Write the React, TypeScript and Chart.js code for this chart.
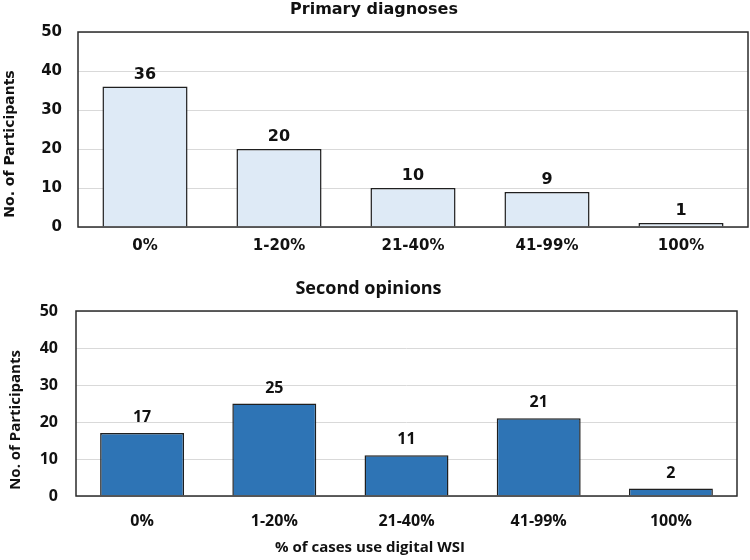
import { useEffect, useRef } from "react";
import { Chart, registerables } from "chart.js";

Chart.register(...registerables);

const categories = ["0%", "1-20%", "21-40%", "41-99%", "100%"];
const primaryValues = [36, 20, 10, 9, 1];
const secondValues = [17, 25, 11, 21, 2];
const yTicks = [0, 10, 20, 30, 40, 50];
const primaryTitle = "Primary diagnoses";
const secondTitle = "Second opinions";
const yAxisTitle = "No. of Participants";
const xAxisTitle = "% of cases use digital WSI";

const TEXT = "#111111";

type TextItem = { text: string; x: number; y: number; rotate?: boolean; font: string };

function makePlugins(labelFont: string, gap: number, texts: TextItem[]) {
  const frame = {
    id: "frame",
    afterDatasetsDraw(chart: any) {
      const { ctx, chartArea: a } = chart;
      ctx.save();
      ctx.strokeStyle = "#2b2b2b";
      ctx.lineWidth = 1.5;
      ctx.strokeRect(a.left, a.top, a.right - a.left, a.bottom - a.top);
      ctx.restore();
    },
  };
  const valueLabels = {
    id: "valueLabels",
    afterDatasetsDraw(chart: any) {
      const { ctx } = chart;
      const meta = chart.getDatasetMeta(0);
      const data = chart.data.datasets[0].data;
      ctx.save();
      ctx.font = labelFont;
      ctx.fillStyle = TEXT;
      ctx.textAlign = "center";
      ctx.textBaseline = "alphabetic";
      meta.data.forEach((el: any, i: number) => {
        ctx.fillText(String(data[i]), el.x, el.y - gap);
      });
      ctx.restore();
    },
  };
  const axisTexts = {
    id: "axisTexts",
    afterDraw(chart: any) {
      const { ctx } = chart;
      texts.forEach((t) => {
        ctx.save();
        ctx.font = t.font;
        ctx.fillStyle = TEXT;
        ctx.textAlign = "center";
        ctx.textBaseline = "middle";
        ctx.translate(t.x, t.y);
        if (t.rotate) ctx.rotate(-Math.PI / 2);
        ctx.fillText(t.text, 0, 0);
        ctx.restore();
      });
    },
  };
  return [frame, valueLabels, axisTexts];
}

function buildConfig(opts: {
  values: number[];
  fill: string;
  family: string;
  title: string;
  titleSize: number;
  titlePad: { top: number; bottom: number };
  tickSize: number;
  xTickPad: number;
  yTickPad: number;
  yWidth: number;
  xHeight: number;
  padRight: number;
  labelFont: string;
  gap: number;
  texts: TextItem[];
}): any {
  const font = { family: opts.family, size: opts.tickSize, weight: "bold" as const };
  return {
    type: "bar",
    data: {
      labels: categories,
      datasets: [
        {
          data: opts.values,
          backgroundColor: opts.fill,
          borderColor: "#1f1f1f",
          borderWidth: 1.5,
          borderSkipped: "start",
          categoryPercentage: 1,
          barPercentage: 0.635,
        },
      ],
    },
    options: {
      animation: false,
      responsive: false,
      maintainAspectRatio: false,
      layout: { padding: { left: 0, right: opts.padRight, top: 0, bottom: 0 } },
      plugins: {
        legend: { display: false },
        tooltip: { enabled: false },
        title: {
          display: true,
          text: opts.title,
          color: TEXT,
          font: { family: opts.family, size: opts.titleSize, weight: "bold" },
          padding: opts.titlePad,
        },
      },
      scales: {
        x: {
          grid: { display: false, drawTicks: false },
          border: { display: false },
          ticks: { font, color: TEXT, padding: opts.xTickPad, maxRotation: 0 },
          afterFit: (s: any) => {
            s.height = opts.xHeight;
          },
        },
        y: {
          min: 0,
          max: 50,
          grid: { color: "#d9d9d9", lineWidth: 1, drawTicks: false },
          border: { display: false },
          ticks: { font, color: TEXT, padding: opts.yTickPad },
          afterBuildTicks: (s: any) => {
            s.ticks = yTicks.map((v) => ({ value: v }));
          },
          afterFit: (s: any) => {
            s.width = opts.yWidth;
          },
        },
      },
    },
    plugins: makePlugins(opts.labelFont, opts.gap, opts.texts),
  };
}

export default function App() {
  const topRef = useRef<HTMLCanvasElement>(null);
  const botRef = useRef<HTMLCanvasElement>(null);

  useEffect(() => {
    let charts: Chart[] = [];
    let cancelled = false;
    const fontsReady = (document as any).fonts
      ? Promise.all([
          (document as any).fonts.load('bold 15px "DejaVu Sans"'),
          (document as any).fonts.load('bold 15px "Open Sans"'),
        ]).catch(() => null)
      : Promise.resolve(null);
    fontsReady.then(() => {
      if (cancelled || !topRef.current || !botRef.current) return;
      const top = new Chart(
        topRef.current,
        buildConfig({
          values: primaryValues,
          fill: "#deeaf6",
          family: "DejaVu Sans",
          title: primaryTitle,
          titleSize: 16,
          titlePad: { top: 0, bottom: 12.8 },
          tickSize: 15,
          xTickPad: 10,
          yTickPad: 16,
          yWidth: 78,
          xHeight: 43,
          padRight: 2,
          labelFont: 'bold 16px "DejaVu Sans"',
          gap: 8,
          texts: [{ text: yAxisTitle, x: 10, y: 144, rotate: true, font: 'bold 14px "DejaVu Sans"' }],
        })
      );
      const bot = new Chart(
        botRef.current,
        buildConfig({
          values: secondValues,
          fill: "#2e74b5",
          family: "Open Sans",
          title: secondTitle,
          titleSize: 18,
          titlePad: { top: 8.2, bottom: 11.2 },
          tickSize: 16,
          xTickPad: 15.5,
          yTickPad: 18,
          yWidth: 76,
          xHeight: 64,
          padRight: 13,
          labelFont: 'bold 16px "Open Sans"',
          gap: 11,
          texts: [
            { text: yAxisTitle, x: 16, y: 150, rotate: true, font: 'bold 15px "Open Sans"' },
            { text: xAxisTitle, x: 370, y: 278, font: 'bold 15px "Open Sans"' },
          ],
        })
      );
      charts = [top, bot];
    });
    return () => {
      cancelled = true;
      charts.forEach((c) => c.destroy());
    };
  }, []);

  return (
    <div style={{ position: "absolute", left: 0, top: 0, width: 750, height: 560, background: "#ffffff" }}>
      <canvas ref={topRef} width={750} height={270} style={{ display: "block", width: 750, height: 270 }} />
      <canvas ref={botRef} width={750} height={290} style={{ display: "block", width: 750, height: 290 }} />
    </div>
  );
}
